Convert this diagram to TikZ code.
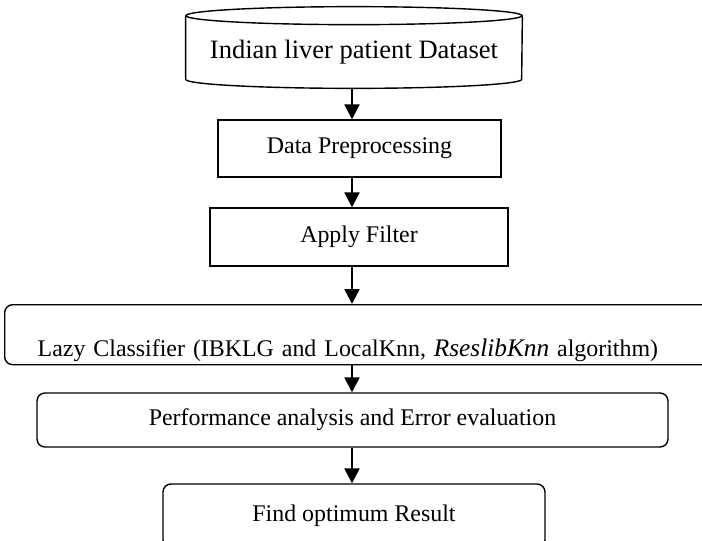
\documentclass[tikz,border=0pt]{standalone}
\usepackage{fontspec}
\setmainfont{Liberation Serif}
\usepackage{tikz}
\usetikzlibrary{arrows.meta, positioning, calc}

\begin{document}
\begin{tikzpicture}[
    x=0.2mm, y=-0.2mm,
    box/.style={draw=black, line width=0.8pt, inner sep=0pt, font=\fontsize{13.6}{16}\selectfont},
    rbox/.style={box, rounded corners=1.6mm},
    arr/.style={line width=1.4pt, -{Triangle[length=3mm, width=3mm]}}
]
\useasboundingbox (0,0) rectangle (702,540);
\clip (0,0) rectangle (702,540);

\node[inner sep=0pt, minimum width=67.2mm, minimum height=12.6mm, text height=5.4mm, text depth=1mm,
      font=\fontsize{15.1}{18}\selectfont] (dataset) at (354,47.5) {Indian liver patient Dataset};
\draw[line width=0.8pt] (dataset.north west) -- (dataset.south west)
    arc[start angle=180, end angle=360, x radius=33.6mm, y radius=1.8mm] -- (dataset.north east);
\draw[line width=0.8pt] (dataset.north) ellipse [x radius=33.6mm, y radius=1.8mm];

\node[box, minimum width=56.6mm, minimum height=11.4mm] (prep) at (359.5,148.5) {Data Preprocessing};
\node[box, minimum width=59.6mm, minimum height=11.6mm] (filter) at (359,237) {Apply Filter};
\node[rbox, anchor=north west, text width=130mm, align=left, inner xsep=6.6mm, inner ysep=0.6mm,
      text height=9.8mm, text depth=1mm] (lazy) at (4,304)
    {Lazy Classifier (IBKLG and LocalKnn, {\fontsize{14.4}{17}\selectfont\itshape RseslibKnn} algorithm)};
\node[rbox, minimum width=126.2mm, minimum height=10.8mm] (perf) at (352.5,420) {Performance analysis and Error evaluation};
\node[rbox, minimum width=76.4mm, minimum height=12.8mm] (best) at (354,516) {Find optimum Result};

% arrows on one vertical line
\coordinate (axis) at (352,0);
\draw[arr] ([yshift=-1.8mm]axis |- dataset.south) -- (axis |- prep.north);
\draw[arr] (axis |- prep.south) -- (axis |- filter.north);
\draw[arr] (axis |- filter.south) -- (axis |- lazy.north);
\draw[arr] (axis |- lazy.south) -- (axis |- perf.north);
\draw[arr] (axis |- perf.south) -- (axis |- best.north);
\end{tikzpicture}
\end{document}
